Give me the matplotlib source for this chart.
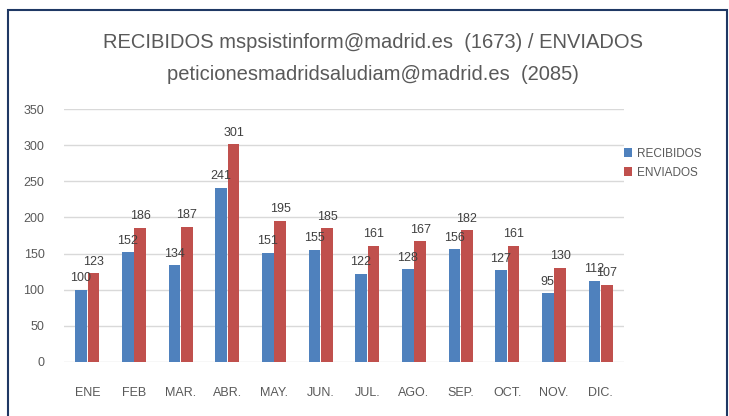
import numpy as np
import matplotlib.pyplot as plt
from matplotlib.patches import Rectangle

# Datos
meses = ['ENE', 'FEB', 'MAR.', 'ABR.', 'MAY.', 'JUN.', 'JUL.', 'AGO.', 'SEP.', 'OCT.', 'NOV.', 'DIC.']
recibidos = [100, 152, 134, 241, 151, 155, 122, 128, 156, 127, 95, 112]
enviados = [123, 186, 187, 301, 195, 185, 161, 167, 182, 161, 130, 107]

azul = '#4F81BD'
rojo = '#C0504D'
gris = '#595959'

plt.rcParams['font.family'] = ['Liberation Sans', 'DejaVu Sans']

W, H = 729, 416
fig = plt.figure(figsize=(W / 100, H / 100), dpi=100)

# Borde del gráfico
fig.add_artist(Rectangle((8 / W, -0.05), (727 - 8) / W, 1.05 - 10 / H,
                         transform=fig.transFigure, fill=False,
                         edgecolor='#1F3864', linewidth=1.5))

ax = fig.add_axes([64 / W, 1 - 362 / H, (624 - 64) / W, (362 - 109) / H])

x = np.arange(len(meses))
w = 0.25
b1 = ax.bar(x - w / 2 - 0.01, recibidos, w, color=azul, label='RECIBIDOS')
b2 = ax.bar(x + w / 2 + 0.01, enviados, w, color=rojo, label='ENVIADOS')

for barras in (b1, b2):
    for b in barras:
        ax.annotate(str(int(b.get_height())),
                    (b.get_x() + b.get_width() / 2, b.get_height()),
                    xytext=(0, 4), textcoords='offset points',
                    ha='center', va='bottom', fontsize=9, color='#404040')

ax.set_xlim(-0.5, len(meses) - 0.5)
ax.set_ylim(0, 350)
ax.set_yticks(range(0, 351, 50))
ax.set_xticks(x)
ax.set_xticklabels(meses)
ax.tick_params(axis='both', length=0, labelsize=9, colors=gris)
ax.tick_params(axis='x', pad=18)
ax.tick_params(axis='y', pad=14)
ax.grid(axis='y', color='#D9D9D9', linewidth=1)
ax.set_axisbelow(True)
for s in ax.spines.values():
    s.set_visible(False)

fig.text(373 / W, 1 - 43 / H, 'RECIBIDOS mspsistinform@madrid.es  (1673) / ENVIADOS',
         ha='center', va='center', fontsize=14.5, color=gris)
fig.text(373 / W, 1 - 75 / H, 'peticionesmadridsaludiam@madrid.es  (2085)',
         ha='center', va='center', fontsize=14.5, color=gris)

ax.legend(loc='upper left', bbox_to_anchor=(613 / W, 1 - 137 / H),
          bbox_transform=fig.transFigure, frameon=False, fontsize=8.5,
          handlelength=0.7, handleheight=0.7, handletextpad=0.4,
          labelcolor=gris, labelspacing=0.6)

fig.savefig('out.png', dpi=100)
